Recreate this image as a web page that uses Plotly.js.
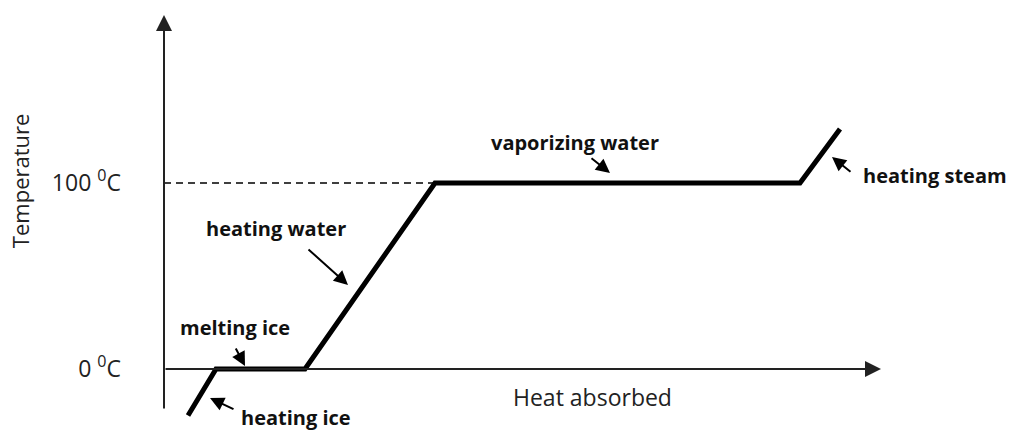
<!DOCTYPE html>
<html>
<head>
<meta charset="utf-8">
<script src="https://cdn.plot.ly/plotly-3.0.1.min.js"></script>
<style>html,body{margin:0;padding:0;background:#fff;}#chart{width:1011px;height:430px;}</style>
</head>
<body>
<div id="chart"></div>
<script>
// Heating curve of water (schematic)
const heat = [24, 52, 141, 271, 636, 676];      // heat absorbed (arbitrary units)
const temp = [-25, 0, 0, 100, 100, 129];        // temperature (°C)
const boilX = [0, 271];                          // dashed guide to 100 °C
const boilY = [100, 100];
const tickVals = [0, 100];
const tickText = ['0 <sup>0</sup>C', '100 <sup>0</sup>C'];
const phaseLabels = ['heating ice', 'melting ice', 'heating water', 'vaporizing water', 'heating steam'];

const FONT = '"Open Sans", "Noto Sans", "Liberation Sans", sans-serif';

const traces = [
  {x: boilX, y: boilY, mode: 'lines', line: {color: '#000', width: 1.5, dash: '7px,5px'}, hoverinfo: 'skip'},
  {x: heat, y: temp, mode: 'lines', line: {color: '#000', width: 5}, hoverinfo: 'skip'}
];

// label placement: [x, y, xanchor, arrowTipX, arrowTipY, arrowTailX, arrowTailY]
const place = [
  [132, -26.3, 'center', 46, -15.6, 71, -22],
  [71, 22.3, 'center', 81, 1.6, 71, 11.8],
  [112, 75.8, 'center', 184, 45.2, 143, 65],
  [411, 122, 'center', 446, 105.4, 426, 114],
  [698, 104.3, 'left', 668, 114, 688, 105.4]
];

const annotations = [];
phaseLabels.forEach((t, i) => {
  const p = place[i];
  annotations.push({x: p[0], y: p[1], xref: 'x', yref: 'y', text: '<b>' + t + '</b>', showarrow: false,
    xanchor: p[2], yanchor: 'middle', borderpad: 0, font: {family: FONT, size: 20, color: '#111'}});
  annotations.push({x: p[3], y: p[4], ax: p[5], ay: p[6], xref: 'x', yref: 'y', axref: 'x', ayref: 'y',
    text: '', showarrow: true, arrowhead: 2, arrowsize: 1.4, arrowwidth: 2, arrowcolor: '#000', standoff: 0, startstandoff: 0});
});
// axes with arrows
annotations.push({x: 0, y: 190.3, ax: 0, ay: -22, xref: 'x', yref: 'y', axref: 'x', ayref: 'y',
  text: '', showarrow: true, arrowhead: 2, arrowsize: 1.6, arrowwidth: 2, arrowcolor: '#222', standoff: 0});
annotations.push({x: 717, y: 0, ax: 0, ay: 0, xref: 'x', yref: 'y', axref: 'x', ayref: 'y',
  text: '', showarrow: true, arrowhead: 2, arrowsize: 1.6, arrowwidth: 2, arrowcolor: '#222', standoff: 0});
// axis titles
annotations.push({x: -0.17, y: 101, xref: 'paper', yref: 'y', text: 'Temperature', textangle: -90, showarrow: false,
  xanchor: 'center', yanchor: 'middle', font: {family: FONT, size: 22, color: '#222'}});
annotations.push({x: 428, y: -15, xref: 'x', yref: 'y', text: 'Heat absorbed', showarrow: false,
  xanchor: 'center', yanchor: 'middle', font: {family: FONT, size: 23, color: '#222'}});

const layout = {
  width: 1011, height: 430,
  margin: {l: 164, r: 0, t: 0, b: 0},
  paper_bgcolor: '#fff', plot_bgcolor: '#fff',
  showlegend: false,
  xaxis: {range: [0, 847], showgrid: false, zeroline: false, showline: false, showticklabels: false, ticks: ''},
  yaxis: {range: [-32.8, 198.4], showgrid: false, zeroline: false, showline: false, ticks: '',
    tickvals: tickVals, ticktext: tickText, ticklabelstandoff: 42,
    tickfont: {family: FONT, size: 23, color: '#222'}},
  annotations: annotations
};

Plotly.newPlot('chart', traces, layout, {staticPlot: true, displayModeBar: false});
</script>
</body>
</html>
